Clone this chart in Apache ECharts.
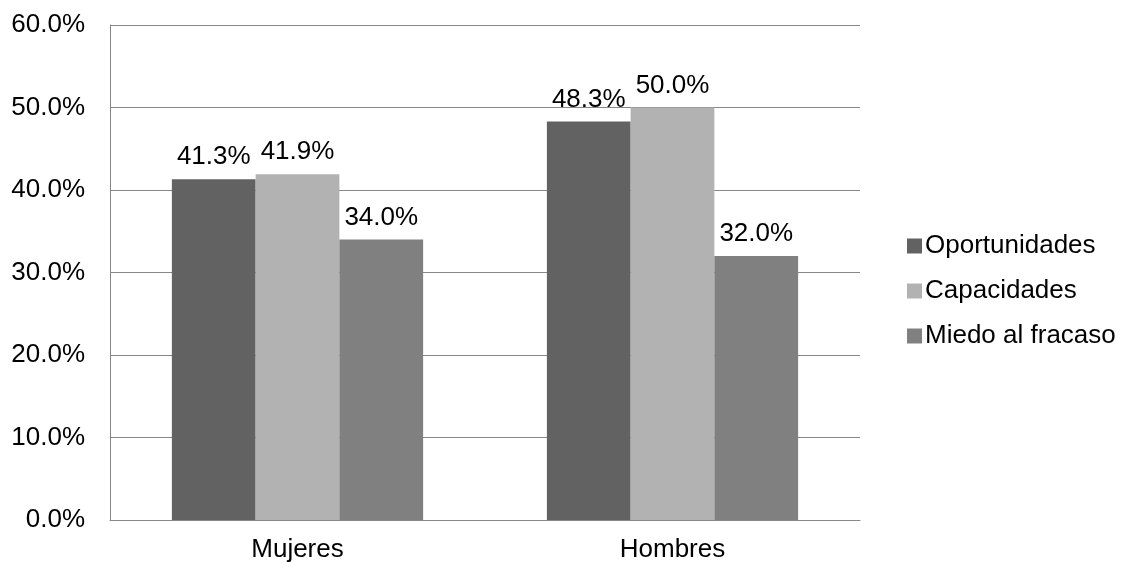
<!DOCTYPE html>
<html>
<head>
<meta charset="utf-8">
<script src="https://cdn.jsdelivr.net/npm/echarts@6/dist/echarts.min.js"></script>
<style>
  html, body { margin: 0; padding: 0; background: #fff; }
  #main { width: 1121px; height: 562px; }
</style>
</head>
<body>
<div id="main"></div>
<script>
const chartContainer = echarts.init(document.getElementById("main"));

// chart values
const categories = ["Mujeres", "Hombres"];
const oportunidades = [41.3, 48.3];
const capacidades = [41.9, 50.0];
const miedo = [34.0, 32.0];

const pct = (v) => Number(v).toFixed(1) + "%";
const font = "Liberation Sans, Arial, sans-serif";
const fs = 26;

const makeSeries = (name, data, color) => ({
  name: name,
  type: "bar",
  data: data,
  barGap: "0%",
  barCategoryGap: "33%",
  itemStyle: { color: color },
  label: {
    show: true,
    position: "top",
    distance: 9,
    color: "#000",
    fontSize: fs,
    fontFamily: font,
    formatter: (p) => pct(p.value),
  },
});

const option = {
  animation: false,
  grid: { left: 110, right: 261, top: 25, bottom: 42, containLabel: false, outerBoundsMode: "none" },
  legend: {
    orient: "vertical",
    left: 902,
    top: 228,
    itemWidth: 15,
    itemHeight: 15,
    itemGap: 19,
    icon: "rect",
    textStyle: { fontSize: fs, fontFamily: font, color: "#000", padding: [0, 0, 0, -2] },
  },
  xAxis: {
    type: "category",
    data: categories,
    axisLine: { lineStyle: { color: "#888", width: 1 } },
    axisTick: { show: false },
    axisLabel: { fontSize: fs, fontFamily: font, color: "#000", margin: 17 },
  },
  yAxis: {
    type: "value",
    min: 0,
    max: 60,
    interval: 10,
    axisLine: { show: true, lineStyle: { color: "#888", width: 1 } },
    axisTick: { show: false },
    splitLine: { lineStyle: { color: "#888", width: 1 } },
    axisLabel: { fontSize: fs, fontFamily: font, color: "#000", margin: 25, formatter: pct },
  },
  series: [
    makeSeries("Oportunidades", oportunidades, "#626262"),
    makeSeries("Capacidades", capacidades, "#b2b2b2"),
    makeSeries("Miedo al fracaso", miedo, "#808080"),
  ],
};

chartContainer.setOption(option);
</script>
</body>
</html>
